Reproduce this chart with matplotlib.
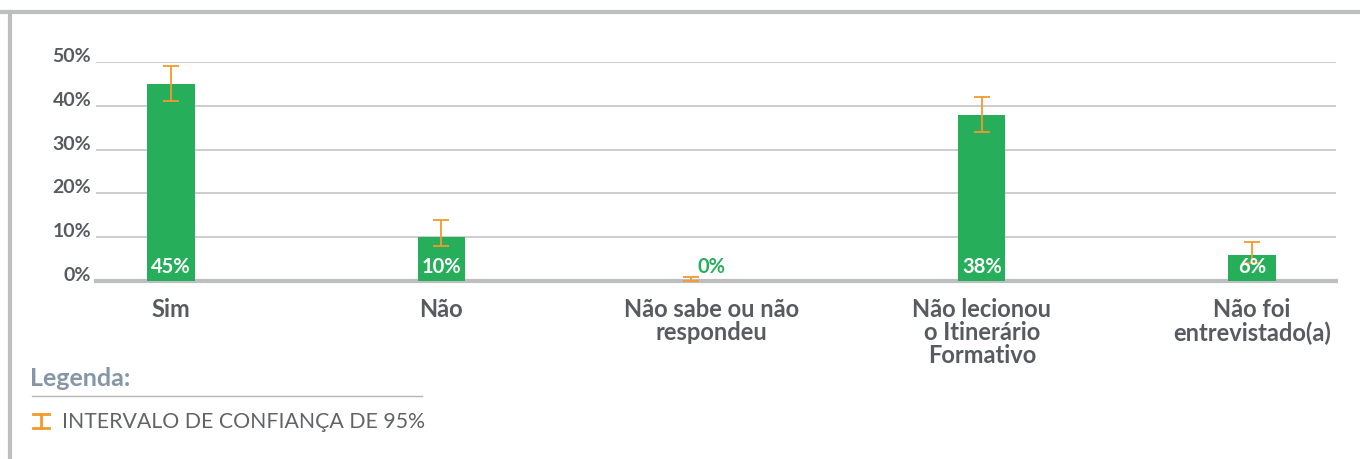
import matplotlib
matplotlib.use('Agg')
from matplotlib import pyplot as plt
from matplotlib.lines import Line2D

categories = ['Sim', 'Não', 'Não sabe ou não\nrespondeu',
              'Não lecionou\no Itinerário\nFormativo', 'Não foi\nentrevistado(a)']
values = [45, 10, 0, 38, 6]
ci_low = [41, 8, 0, 34, 4]
ci_high = [49, 14, 1, 42, 9]
yticks = [0, 10, 20, 30, 40, 50]

green = '#27ae5a'
orange = '#f39a2d'
grey_text = '#575b5f'
bar_w = 0.175

plt.rcParams['font.family'] = ['Lato', 'DejaVu Sans']

fig = plt.figure(figsize=(13.6, 4.59), dpi=100)
ax = fig.add_axes([96 / 1360, 1 - 281 / 459, (1336 - 96) / 1360, (281 - 62) / 459])

x = list(range(len(categories)))
ax.bar(x, values, width=bar_w, color=green, zorder=3)

# error bars (a zero bar gets its whisker at the bar's left edge, as in the source)
ex = [xi if v > 0 else xi - bar_w / 2 + 0.01 for xi, v in zip(x, values)]
err_lo = [v - lo for v, lo in zip(values, ci_low)]
err_hi = [hi - v for v, hi in zip(values, ci_high)]
ax.errorbar(ex, values, yerr=[err_lo, err_hi], fmt='none', ecolor=orange,
            elinewidth=1.3, capsize=5.5, capthick=1.3, zorder=4, clip_on=False)

# value labels
for xi, v in zip(x, values):
    if v > 0:
        ax.text(xi, 1.0, f'{v}%', ha='center', va='bottom', color='white',
                fontsize=14.5, fontweight='bold', zorder=5)
    else:
        ax.text(xi, 0.9, f'{v}%', ha='center', va='bottom', color=green,
                fontsize=14.5, fontweight='bold', zorder=5)

ax.set_xlim(-0.278, 4.311)
ax.set_ylim(0, 50)
ax.set_yticks(yticks)
ax.set_yticklabels([f'{t}%' for t in yticks], fontsize=14, fontweight='bold', color=grey_text)
for lab in ax.get_yticklabels():
    lab.set_verticalalignment('baseline')
ax.set_xticks(x)
ax.set_xticklabels(categories, fontsize=17, fontweight='bold', color=grey_text, linespacing=1.0)
ax.tick_params(axis='both', length=0)
ax.tick_params(axis='y', pad=3.5)
ax.tick_params(axis='x', pad=12.5)

ax.grid(axis='y', color='#c9c9c9', linewidth=1.3, zorder=0)
for s in ['top', 'right', 'left']:
    ax.spines[s].set_visible(False)
ax.spines['bottom'].set_color('#bcbec0')
ax.spines['bottom'].set_linewidth(3)

# outer frame (top and left)
fig.add_artist(Line2D([0, 1], [1 - 12 / 459, 1 - 12 / 459], color='#bcbec0', linewidth=3))
fig.add_artist(Line2D([10 / 1360, 10 / 1360], [0, 1 - 12 / 459], color='#bcbec0', linewidth=3))

# legend block
fig.text(30 / 1360, 1 - 378 / 459, 'Legenda:', fontsize=18, fontweight='bold',
         color='#8597a6', va='center', ha='left')
fig.add_artist(Line2D([32 / 1360, 422 / 1360], [1 - 396 / 459, 1 - 396 / 459],
                      color='#b5b5b5', linewidth=1))
ix = 41 / 1360
fig.add_artist(Line2D([ix, ix], [1 - 414 / 459, 1 - 428 / 459], color=orange, linewidth=2))
fig.add_artist(Line2D([33 / 1360, 49 / 1360], [1 - 414 / 459, 1 - 414 / 459], color=orange, linewidth=2))
fig.add_artist(Line2D([33 / 1360, 49 / 1360], [1 - 428 / 459, 1 - 428 / 459], color=orange, linewidth=2))
fig.text(62 / 1360, 1 - 422 / 459, 'INTERVALO DE CONFIANÇA DE 95%', fontsize=15.3,
         color='#616365', va='center', ha='left')

fig.savefig('out.png', dpi=100)
